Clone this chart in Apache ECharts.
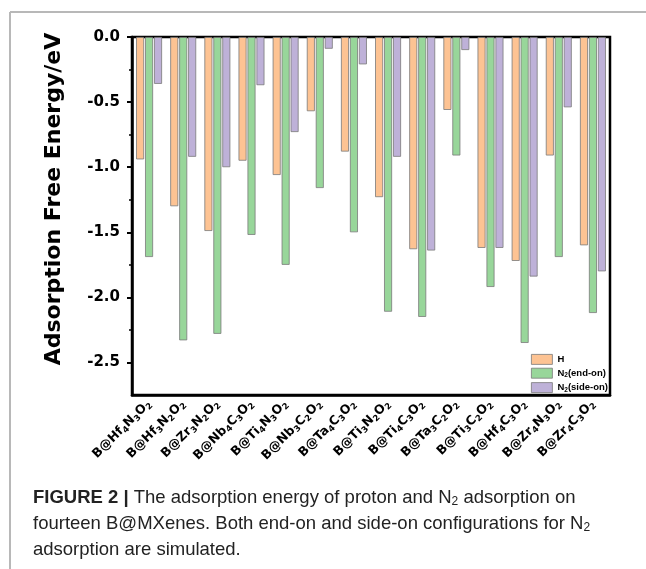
<!DOCTYPE html>
<html>
<head>
<meta charset="utf-8">
<script src="https://cdn.jsdelivr.net/npm/echarts@6/dist/echarts.min.js"></script>
<style>
html,body{margin:0;padding:0;background:#fff;}
#chart{width:646px;height:569px;}
</style>
</head>
<body>
<div id="chart"></div>
<script>
// ---- data ----
const categories = ['B@Hf4N3O2','B@Hf3N2O2','B@Zr3N2O2','B@Nb4C3O2','B@Ti4N3O2','B@Nb3C2O2','B@Ta4C3O2',
                    'B@Ti3N2O2','B@Ti4C3O2','B@Ta3C2O2','B@Ti3C2O2','B@Hf4C3O2','B@Zr4N3O2','B@Zr4C3O2'];
const seriesNames = ['H', 'N2(end-on)', 'N2(side-on)'];
const valuesH      = [-0.94, -1.30, -1.49, -0.95, -1.06, -0.57, -0.88, -1.23, -1.63, -0.56, -1.62, -1.72, -0.91, -1.60];
const valuesEndOn  = [-1.69, -2.33, -2.28, -1.52, -1.75, -1.16, -1.50, -2.11, -2.15, -0.91, -1.92, -2.35, -1.69, -2.12];
const valuesSideOn = [-0.36, -0.92, -1.00, -0.37, -0.73, -0.09, -0.21, -0.92, -1.64, -0.10, -1.62, -1.84, -0.54, -1.80];
const yMajorTicks = [0, -0.5, -1.0, -1.5, -2.0, -2.5];
const yMinorTicks = [-0.25, -0.75, -1.25, -1.75, -2.25];
const yMin = -2.75, yMax = 0;
const yAxisTitle = 'Adsorption Free Energy/eV';
const captionLines = [
  '{b|FIGURE 2 |} The adsorption energy of proton and N{s|2} adsorption on',
  'fourteen B@MXenes. Both end-on and side-on configurations for N{s|2}',
  'adsorption are simulated.'
];

const colors = ['#FDC393', '#98D69A', '#BEB1D8'];
const BOLD = 'DejaVu Sans';

function subscriptDigits(s, tag) {
  return s.replace(/(\d)/g, '{' + tag + '|$1}');
}
function legendText(s) {
  const m = s.match(/^N2(.*)$/);
  if (m) return '{n|N}{ls|2}{n|' + m[1] + '}';
  return '{n|' + s + '}';
}

const chart = echarts.init(document.getElementById('chart'), null, {renderer: 'canvas'});

const grid = {left: 132, right: 36, top: 37, bottom: 174, show: true, borderColor: '#000', borderWidth: 2.5, backgroundColor: 'transparent'};

function mkSeries(name, data, color) {
  return {
    name: name, type: 'bar', data: data, barWidth: 8, barGap: '12%',
    itemStyle: {color: color, borderColor: '#7a7a7a', borderWidth: 0.8}
  };
}

const option = {
  animation: false,
  backgroundColor: '#fff',
  grid: grid,
  legend: {
    orient: 'vertical', left: 531, top: 354, padding: 0,
    itemWidth: 21, itemHeight: 10, itemGap: 3,
    icon: 'rect',
    data: seriesNames,
    formatter: function (n) { return legendText(n); },
    textStyle: {
      fontFamily: 'Liberation Sans', fontWeight: 'bold', fontSize: 9.5, color: '#000',
      rich: {
        n: {fontFamily: 'Liberation Sans', fontWeight: 'bold', fontSize: 9.5, color: '#000'},
        ls: {fontFamily: 'Liberation Sans', fontWeight: 'bold', fontSize: 6.5, color: '#000', padding: [5, 0, 0, 0]}
      }
    },
    itemStyle: {borderColor: '#7a7a7a', borderWidth: 0.8}
  },
  xAxis: {
    type: 'category', data: categories,
    axisLine: {onZero: false, lineStyle: {color: '#000', width: 2.5}},
    axisTick: {show: false},
    axisLabel: {
      rotate: 45, margin: 7, interval: 0,
      formatter: function (v) { return subscriptDigits(v, 's'); },
      fontFamily: BOLD, fontWeight: 'bold', fontSize: 12.5, color: '#000',
      rich: {
        s: {fontFamily: BOLD, fontWeight: 'bold', fontSize: 8.5, color: '#000', padding: [7, 0, 0, 0]}
      }
    },
    splitLine: {show: false}
  },
  yAxis: [{
    type: 'value', min: yMin, max: yMax,
    name: yAxisTitle, nameLocation: 'middle', nameGap: 67, nameRotate: 90,
    nameTextStyle: {fontFamily: BOLD, fontWeight: 'bold', fontSize: 22, color: '#000', padding: [0, 0, 0, 34]},
    axisLine: {show: true, lineStyle: {color: '#000', width: 2.5}},
    axisTick: {show: true, length: 5, lineStyle: {color: '#000', width: 2}, customValues: yMajorTicks},
    axisLabel: {
      customValues: yMajorTicks, margin: 12,
      formatter: function (v) { return v.toFixed(1); },
      fontFamily: BOLD, fontWeight: 'bold', fontSize: 15, color: '#000'
    },
    splitLine: {show: false}
  }, {
    type: 'value', min: yMin, max: yMax, position: 'left',
    axisLine: {show: false},
    axisTick: {show: true, length: 3, lineStyle: {color: '#000', width: 1.5}, customValues: yMinorTicks},
    axisLabel: {show: false},
    splitLine: {show: false}
  }],
  series: [
    mkSeries(seriesNames[0], valuesH, colors[0]),
    mkSeries(seriesNames[1], valuesEndOn, colors[1]),
    mkSeries(seriesNames[2], valuesSideOn, colors[2])
  ],
  graphic: [
    {type: 'line', shape: {x1: 10, y1: 12, x2: 646, y2: 12}, style: {stroke: '#b8b8b8', lineWidth: 2}},
    {type: 'line', shape: {x1: 10, y1: 12, x2: 10, y2: 569}, style: {stroke: '#b8b8b8', lineWidth: 2}}
  ].concat(captionLines.map(function (t, i) {
    return {
      type: 'text', left: 33, top: 488 + i * 26,
      style: {
        text: t, fill: '#222',
        font: '18.5px "Liberation Sans", sans-serif',
        rich: {
          b: {fontFamily: 'Liberation Sans', fontWeight: 'bold', fontSize: 18.5, fill: '#222'},
          s: {fontFamily: 'Liberation Sans', fontSize: 12, fill: '#222', padding: [8, 0, 0, 0]}
        }
      }
    };
  }))
};
chart.setOption(option);
</script>
</body>
</html>
